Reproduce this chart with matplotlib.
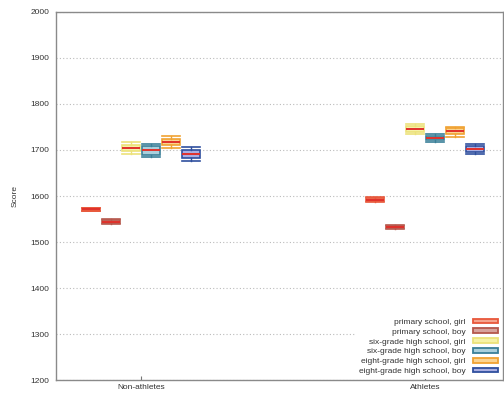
import numpy as np
import matplotlib
matplotlib.use('Agg')
import matplotlib.pyplot as plt
from matplotlib.patches import Patch

plt.rcParams['font.family'] = ['Liberation Sans', 'DejaVu Sans']

groups = ['Non-athletes', 'Athletes']
series = ['primary school, girl', 'primary school, boy',
          'six-grade high school, girl', 'six-grade high school, boy',
          'eight-grade high school, girl', 'eight-grade high school, boy']

# box stats per series: [non-athletes, athletes]
whislo = [[1567, 1587], [1539, 1528], [1692, 1735], [1684, 1718], [1704, 1729], [1675, 1691]]
q1 = [[1568, 1589], [1541, 1530], [1697, 1740], [1690, 1721], [1711, 1734], [1683, 1695]]
med = [[1571, 1592], [1544, 1532], [1704, 1746], [1700, 1726], [1718, 1741], [1691, 1702]]
q3 = [[1574, 1595], [1547, 1535], [1711, 1752], [1708, 1731], [1724, 1747], [1699, 1709]]
whishi = [[1575, 1597], [1549, 1536], [1718, 1757], [1712, 1735], [1730, 1751], [1707, 1713]]

edge_colors = ['#e8573a', '#b5574c', '#ece27a', '#3a7f98', '#f0a232', '#2f4f9e']
face_colors = ['#f5a48e', '#d8a29c', '#f6f2a6', '#a9cfdc', '#fbd390', '#a9aee2']
median_color = '#e0302a'

fig = plt.figure(figsize=(5.04, 3.96), dpi=100)
ax = fig.add_axes([0.111, 0.0404, 0.887, 0.9293])

step = 0.0704
width = 0.062
for i in range(len(series)):
    offset = (i - 2.5) * step
    stats = []
    for g in range(len(groups)):
        stats.append({'whislo': whislo[i][g], 'q1': q1[i][g], 'med': med[i][g],
                      'q3': q3[i][g], 'whishi': whishi[i][g], 'fliers': []})
    ax.bxp(stats, positions=[g + offset for g in range(len(groups))],
           widths=width, patch_artist=True, showfliers=False,
           boxprops=dict(facecolor=face_colors[i], edgecolor=edge_colors[i], linewidth=1.2),
           whiskerprops=dict(color=edge_colors[i], linewidth=1.0),
           capprops=dict(color=edge_colors[i], linewidth=1.2),
           medianprops=dict(color=median_color, linewidth=1.4),
           capwidths=width, manage_ticks=False, zorder=3)

ax.set_xlim(-0.30, 1.275)
ax.set_ylim(1200, 2000)
ax.set_yticks(np.arange(1200, 2001, 100))
ax.set_xticks(range(len(groups)))
ax.set_xticklabels(groups)
ax.set_ylabel('Score', fontsize=6, color='#333333', labelpad=9)
ax.yaxis.grid(True, linestyle=(0, (1, 2)), color='#bbbbbb', linewidth=0.8)
ax.set_axisbelow(True)
ax.tick_params(axis='y', length=0, labelsize=6, labelcolor='#333333', pad=4.5)
ax.tick_params(axis='x', direction='in', length=3, color='#777777',
               labelsize=6, labelcolor='#333333', pad=3)
for sp in ax.spines.values():
    sp.set_color('#8a8a8a')
    sp.set_linewidth(1.0)

handles = [Patch(facecolor=face_colors[i], edgecolor=edge_colors[i], linewidth=1.3)
           for i in range(len(series))]
leg = ax.legend(handles, series, loc='lower right', markerfirst=False, frameon=True,
                fontsize=6, handlelength=3.0, handleheight=0.5, labelspacing=0.3,
                handletextpad=0.9, borderaxespad=0.1, borderpad=0.5)
leg.get_frame().set_edgecolor('none')
leg.get_frame().set_facecolor('white')
leg.get_frame().set_alpha(1.0)
for t in leg.get_texts():
    t.set_color('#333333')

fig.savefig('out.png', dpi=100)
